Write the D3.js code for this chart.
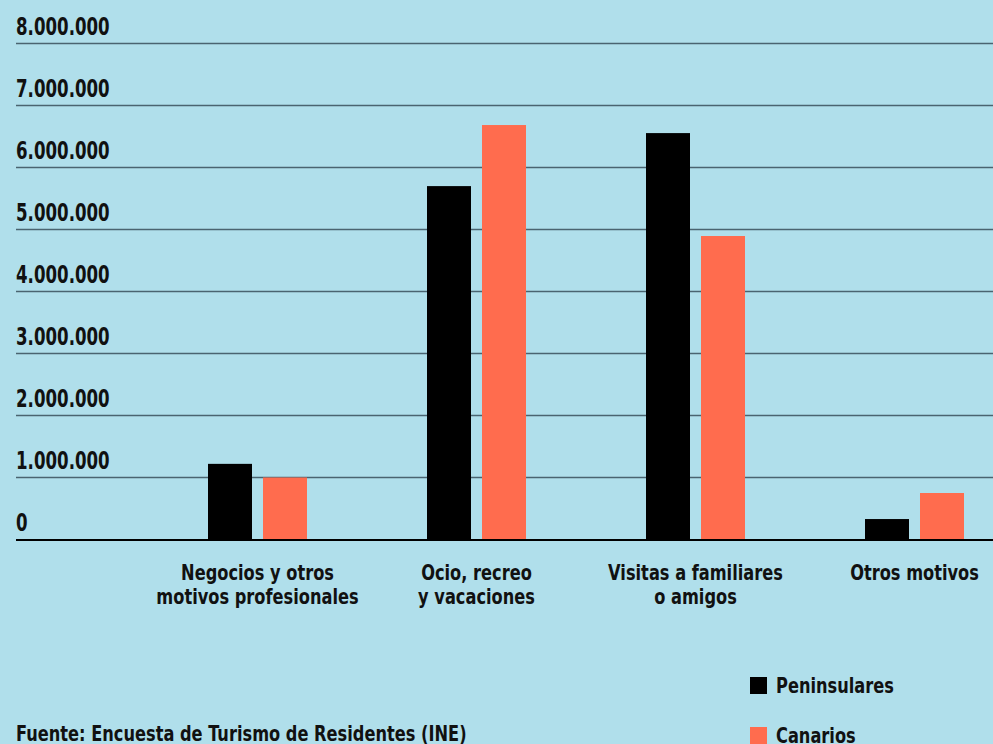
<!DOCTYPE html>
<html>
<head>
<meta charset="utf-8">
<script src="https://cdn.jsdelivr.net/npm/d3@7"></script>
<style>
  html, body { margin: 0; padding: 0; background: #B0DFEB; }
  svg { display: block; }
  text { font-family: "DejaVu Sans Condensed", "DejaVu Sans", sans-serif; font-stretch: condensed; fill: #111; }
</style>
</head>
<body>
<svg id="chart" width="993" height="744"></svg>
<script>
const categories = [
  ["Negocios y otros", "motivos profesionales"],
  ["Ocio, recreo", "y vacaciones"],
  ["Visitas a familiares", "o amigos"],
  ["Otros motivos"]
];
const seriesNames = ["Peninsulares", "Canarios"];
const peninsulares = [1220000, 5700000, 6555000, 330000];
const canarios = [1000000, 6685000, 4895000, 750000];
const yTicks = [0, 1000000, 2000000, 3000000, 4000000, 5000000, 6000000, 7000000, 8000000];
const seriesColors = ["#000000", "#FF6C4E"];
const sourceText = "Fuente: Encuesta de Turismo de Residentes (INE)";

const W = 993, H = 744;
const svg = d3.select("#chart");
svg.append("rect").attr("width", W).attr("height", H).attr("fill", "#B0DFEB");

const catKeys = categories.map((c, i) => i);
const data = catKeys.map(i => ({ cat: i, values: [peninsulares[i], canarios[i]] }));

const y = d3.scaleLinear().domain([0, 8000000]).range([539.5, 43.5]);
const x0 = d3.scaleBand().domain(catKeys).range([148, 1024])
  .paddingInner(120 / 219).paddingOuter(60 / 219);
const x1 = d3.scaleBand().domain([0, 1]).range([0, x0.bandwidth()]).paddingInner(0.2).paddingOuter(0);

const fmt = v => d3.format(",")(v).replace(/,/g, ".");
const SX = 0.82;   // horizontal condensing for labels
const SXT = 0.74;  // horizontal condensing for tick labels

// gridlines
const grid = svg.append("g");
grid.selectAll("line").data(yTicks.filter(t => t > 0)).join("line")
  .attr("x1", 16).attr("x2", W)
  .attr("y1", d => y(d)).attr("y2", d => y(d))
  .attr("stroke", "#4A6470").attr("stroke-width", 1.4);

// tick labels
svg.append("g").selectAll("text").data(yTicks).join("text")
  .attr("transform", d => `translate(16,${y(d) - 8.5}) scale(${SXT},1)`)
  .attr("font-size", 25).attr("font-weight", 700)
  .text(d => fmt(d));

// bars
const groups = svg.append("g").selectAll("g").data(data).join("g")
  .attr("transform", d => `translate(${x0(d.cat)},0)`);
groups.selectAll("rect").data(d => d.values.map((v, k) => ({ k, v }))).join("rect")
  .attr("x", d => x1(d.k)).attr("width", x1.bandwidth())
  .attr("y", d => y(d.v)).attr("height", d => y(0) - y(d.v))
  .attr("fill", d => seriesColors[d.k]);

// zero axis
svg.append("line").attr("x1", 16).attr("x2", W)
  .attr("y1", 540).attr("y2", 540)
  .attr("stroke", "#000").attr("stroke-width", 2.2);

// category labels
const labels = svg.append("g").selectAll("g").data(data).join("g")
  .attr("transform", d => `translate(${x0(d.cat) + x0.bandwidth() / 2},0) scale(${SX},1)`);
labels.each(function(d) {
  const g = d3.select(this);
  categories[d.cat].forEach((line, j) => {
    g.append("text").attr("x", 0).attr("y", 580 + j * 24.5)
      .attr("text-anchor", "middle")
      .attr("font-size", 22).attr("font-weight", 700).text(line);
  });
});

// legend
const legend = svg.append("g");
seriesNames.forEach((name, i) => {
  const ly = 677 + i * 50;
  legend.append("rect").attr("x", 750).attr("y", ly).attr("width", 17).attr("height", 17)
    .attr("fill", seriesColors[i]);
  legend.append("text").attr("transform", `translate(776,${ly + 15.5}) scale(${SX},1)`)
    .attr("font-size", 22).attr("font-weight", 700).text(name);
});

// source
svg.append("text").attr("transform", `translate(16,741) scale(${SX},1)`)
  .attr("font-size", 22).attr("font-weight", 700).text(sourceText);
</script>
</body>
</html>
